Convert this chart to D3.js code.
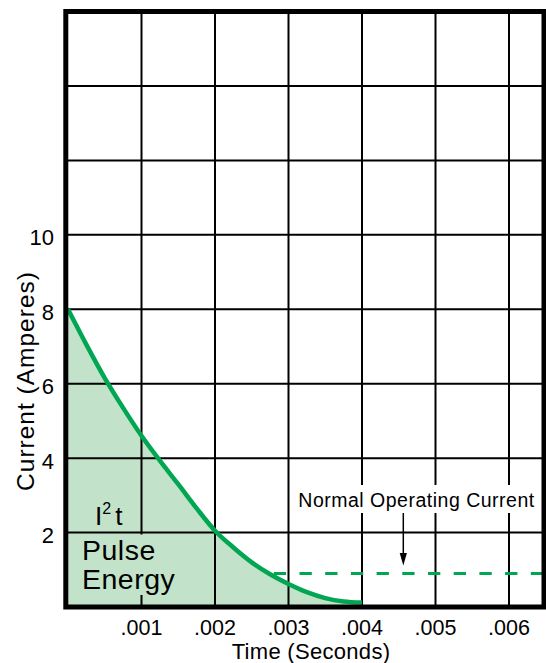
<!DOCTYPE html>
<meta charset="utf-8">
<style>
    body { margin: 0; background: #fff; }
    svg text { font-family: "Liberation Sans", Arial, Helvetica, sans-serif; fill: #000; }
    .grid line { stroke: #000; stroke-width: 2px; }
    .frame { fill: none; stroke: #000; stroke-width: 5px; }
    .pulse { fill: none; stroke: #00a651; stroke-width: 4.5px; }
    .pulse-area { fill: #c2e3c9; }
    .normal { stroke: #00a651; stroke-width: 3px; stroke-dasharray: 12.3,13.4; }
</style>
<body>
<svg width="546" height="663"></svg>
<script src="https://d3js.org/d3.v7.min.js"></script>
<script>

    // values
    var timeTicks = [0.001, 0.002, 0.003, 0.004, 0.005, 0.006];
    var timeLabels = [".001", ".002", ".003", ".004", ".005", ".006"];
    var gridCurrents = [2, 4, 6, 8, 10, 12, 14];
    var currentTicks = [2, 4, 6, 8, 10];

    // pulse current (amps) against time (seconds)
    var pulseTime = [0, 0.00025, 0.0005, 0.00075, 0.001, 0.00125, 0.0015, 0.00175, 0.002,
                     0.00225, 0.0025, 0.00275, 0.003, 0.00325, 0.0035, 0.00375, 0.004];
    var pulseCurrent = [8, 7.05, 6.15, 5.35, 4.6, 3.93, 3.3, 2.65, 2.05,
                        1.6, 1.2, 0.88, 0.62, 0.4, 0.24, 0.15, 0.12];

    var normalCurrent = 0.9;
    var normalStart = 0.0028;

    var svg = d3.select("svg");

    var x = d3.scaleLinear().domain([0, 0.006]).range([68, 509]),
        y = d3.scaleLinear().domain([0, 16]).range([607, 11.5]);

    var frame = {left: 65.8, right: 544, top: 11.5, bottom: 607};

    var pulse = pulseTime.map(function (t, i) { return {t: t, amps: pulseCurrent[i]}; });

    var area = d3.area()
        .x(function (d) { return x(d.t); })
        .y0(y(0))
        .y1(function (d) { return y(d.amps); })
        .curve(d3.curveMonotoneX);

    var line = d3.line()
        .x(function (d) { return x(d.t); })
        .y(function (d) { return y(d.amps); })
        .curve(d3.curveMonotoneX);

    svg.append("path")
        .datum(pulse)
        .attr("class", "pulse-area")
        .attr("d", area);

    // grid
    var grid = svg.append("g").attr("class", "grid");

    grid.selectAll(".vgrid")
        .data(timeTicks)
        .enter().append("line")
        .attr("x1", function (d) { return x(d); })
        .attr("x2", function (d) { return x(d); })
        .attr("y1", frame.top)
        .attr("y2", frame.bottom);

    grid.selectAll(".hgrid")
        .data(gridCurrents)
        .enter().append("line")
        .attr("x1", frame.left)
        .attr("x2", frame.right)
        .attr("y1", function (d) { return y(d); })
        .attr("y2", function (d) { return y(d); });

    // label backgrounds hide the grid under the text
    svg.append("rect")
        .attr("x", 72).attr("y", 534.5)
        .attr("width", 110).attr("height", 60.5)
        .attr("fill", "#c2e3c9");

    svg.append("rect")
        .attr("x", 295).attr("y", 485)
        .attr("width", 243).attr("height", 28)
        .attr("fill", "#fff");

    // normal operating current
    svg.append("line")
        .attr("class", "normal")
        .attr("x1", x(normalStart))
        .attr("x2", frame.right)
        .attr("y1", y(normalCurrent))
        .attr("y2", y(normalCurrent));

    svg.append("path")
        .datum(pulse)
        .attr("class", "pulse")
        .attr("d", line);

    svg.append("rect")
        .attr("class", "frame")
        .attr("x", frame.left)
        .attr("y", frame.top)
        .attr("width", frame.right - frame.left)
        .attr("height", frame.bottom - frame.top);

    // tick labels
    svg.selectAll(".xlabel")
        .data(timeTicks)
        .enter().append("text")
        .attr("x", function (d) { return x(d); })
        .attr("y", 635)
        .attr("text-anchor", "middle")
        .style("font-size", "21.5px")
        .text(function (d, i) { return timeLabels[i]; });

    svg.selectAll(".ylabel")
        .data(currentTicks)
        .enter().append("text")
        .attr("x", 54)
        .attr("y", function (d) { return y(d) + 10.4; })
        .attr("text-anchor", "end")
        .style("font-size", "22px")
        .text(function (d) { return d; });

    // axis titles
    svg.append("text")
        .attr("x", 311)
        .attr("y", 659)
        .attr("text-anchor", "middle")
        .style("font-size", "22px")
        .style("letter-spacing", "0.3px")
        .text("Time (Seconds)");

    svg.append("text")
        .attr("transform", "translate(34,381) rotate(-90)")
        .attr("text-anchor", "middle")
        .style("font-size", "24.5px")
        .style("letter-spacing", "1px")
        .text("Current (Amperes)");

    // I2t / pulse energy
    var i2t = svg.append("text")
        .attr("x", 95)
        .attr("y", 525)
        .style("font-size", "26px");
    i2t.append("tspan").text("I");
    i2t.append("tspan").attr("dy", -11).style("font-size", "16px").text("2");
    i2t.append("tspan").attr("dy", 11).attr("dx", 4).text("t");

    svg.append("text")
        .attr("x", 82)
        .attr("y", 560)
        .style("font-size", "28.5px")
        .style("letter-spacing", "0.5px")
        .text("Pulse");

    svg.append("text")
        .attr("x", 82)
        .attr("y", 589)
        .style("font-size", "28.5px")
        .style("letter-spacing", "0.5px")
        .text("Energy");

    svg.append("text")
        .attr("x", 416.5)
        .attr("y", 507)
        .attr("text-anchor", "middle")
        .style("font-size", "19.5px")
        .style("letter-spacing", "0.5px")
        .text("Normal Operating Current");

    // arrow down to the normal current line
    var arrowX = 403.3;
    svg.append("line")
        .attr("x1", arrowX).attr("x2", arrowX)
        .attr("y1", 513).attr("y2", 555)
        .attr("stroke", "#000")
        .attr("stroke-width", 1.5);

    svg.append("path")
        .attr("d", d3.line()([[arrowX - 3.6, 553], [arrowX + 3.6, 553], [arrowX, 565.5]]) + "Z")
        .attr("fill", "#000");

</script>
</body>
